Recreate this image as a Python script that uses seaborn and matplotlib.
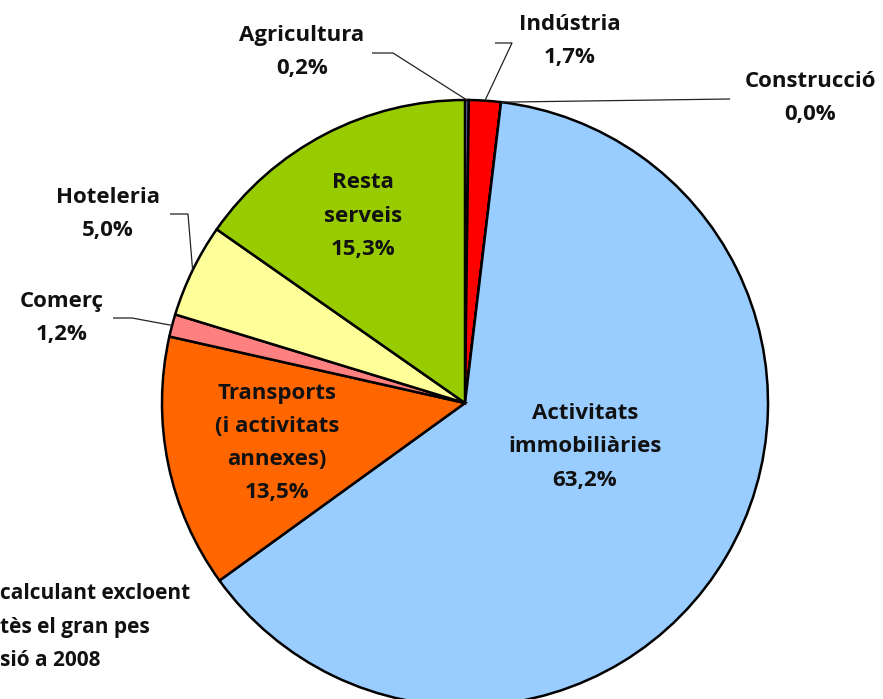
import matplotlib
matplotlib.use("Agg")
import numpy as np
import matplotlib.pyplot as plt
import seaborn as sns

categories = ["Agricultura", "Indústria", "Construcció", "Activitats\nimmobiliàries",
              "Transports\n(i activitats\nannexes)", "Comerç", "Hoteleria", "Resta\nserveis"]
values = [0.2, 1.7, 0.0, 63.2, 13.5, 1.2, 5.0, 15.3]
pct_labels = ["0,2%", "1,7%", "0,0%", "63,2%", "13,5%", "1,2%", "5,0%", "15,3%"]
colors = ["#8E9BF5", "#FF0000", "#993366", "#99CCFF", "#FF6600", "#FF8080", "#FFFF99", "#99CC00"]
footnote = ["calculant excloent", "tès el gran pes", "sió a 2008"]

sns.set_theme(style="white")
plt.rcParams['font.family'] = ['Open Sans', 'DejaVu Sans']

W, H = 883, 699
fig = plt.figure(figsize=(8.83, 6.99), dpi=100)
ax = fig.add_axes([0, 0, 1, 1])
cx, cy, R = 465, H - 403, 303
wedges, _ = ax.pie(values, colors=colors, startangle=90, counterclock=False,
                   center=(cx, cy), radius=R,
                   wedgeprops=dict(edgecolor='black', linewidth=1.8))
ax.set_xlim(0, W)
ax.set_ylim(0, H)
ax.set_aspect('equal')
ax.axis('off')

def edge_point(i):
    w = wedges[i]
    a = np.deg2rad((w.theta1 + w.theta2) / 2)
    return cx + R * np.cos(a), cy + R * np.sin(a)

fs = 16
ls = 1.76
tk = dict(fontsize=fs, fontweight='bold', color='#111111', ha='center', va='center')

# inside labels
inside = {3: (585, 447), 4: (277, 443), 7: (363, 216)}
for i, (x, y) in inside.items():
    ax.text(x, H - y, categories[i] + "\n" + pct_labels[i], linespacing=ls, **tk)

# outside labels with leader lines
outside = {
    0: ((302, 52), [(372, 53), (393, 53)]),
    1: ((570, 41), [(495, 43), (512, 43)]),
    2: ((810, 98), [(730, 99)]),
    6: ((108, 214), [(170, 214), (188, 214)]),
    5: ((62, 318), [(113, 318), (132, 318)]),
}
for i, ((x, y), pts) in outside.items():
    ax.text(x, H - y, categories[i] + "\n" + pct_labels[i], linespacing=ls, **tk)
    ex, ey = edge_point(i)
    xs = [p[0] for p in pts] + [ex]
    ys = [H - p[1] for p in pts] + [ey]
    ax.plot(xs, ys, color='#222222', linewidth=0.9, solid_capstyle='butt')

ax.text(0, H - 627, "\n".join(footnote), fontsize=15, fontweight='bold',
        color='#111111', ha='left', va='center', linespacing=1.8)

fig.savefig("out.png", dpi=100)
